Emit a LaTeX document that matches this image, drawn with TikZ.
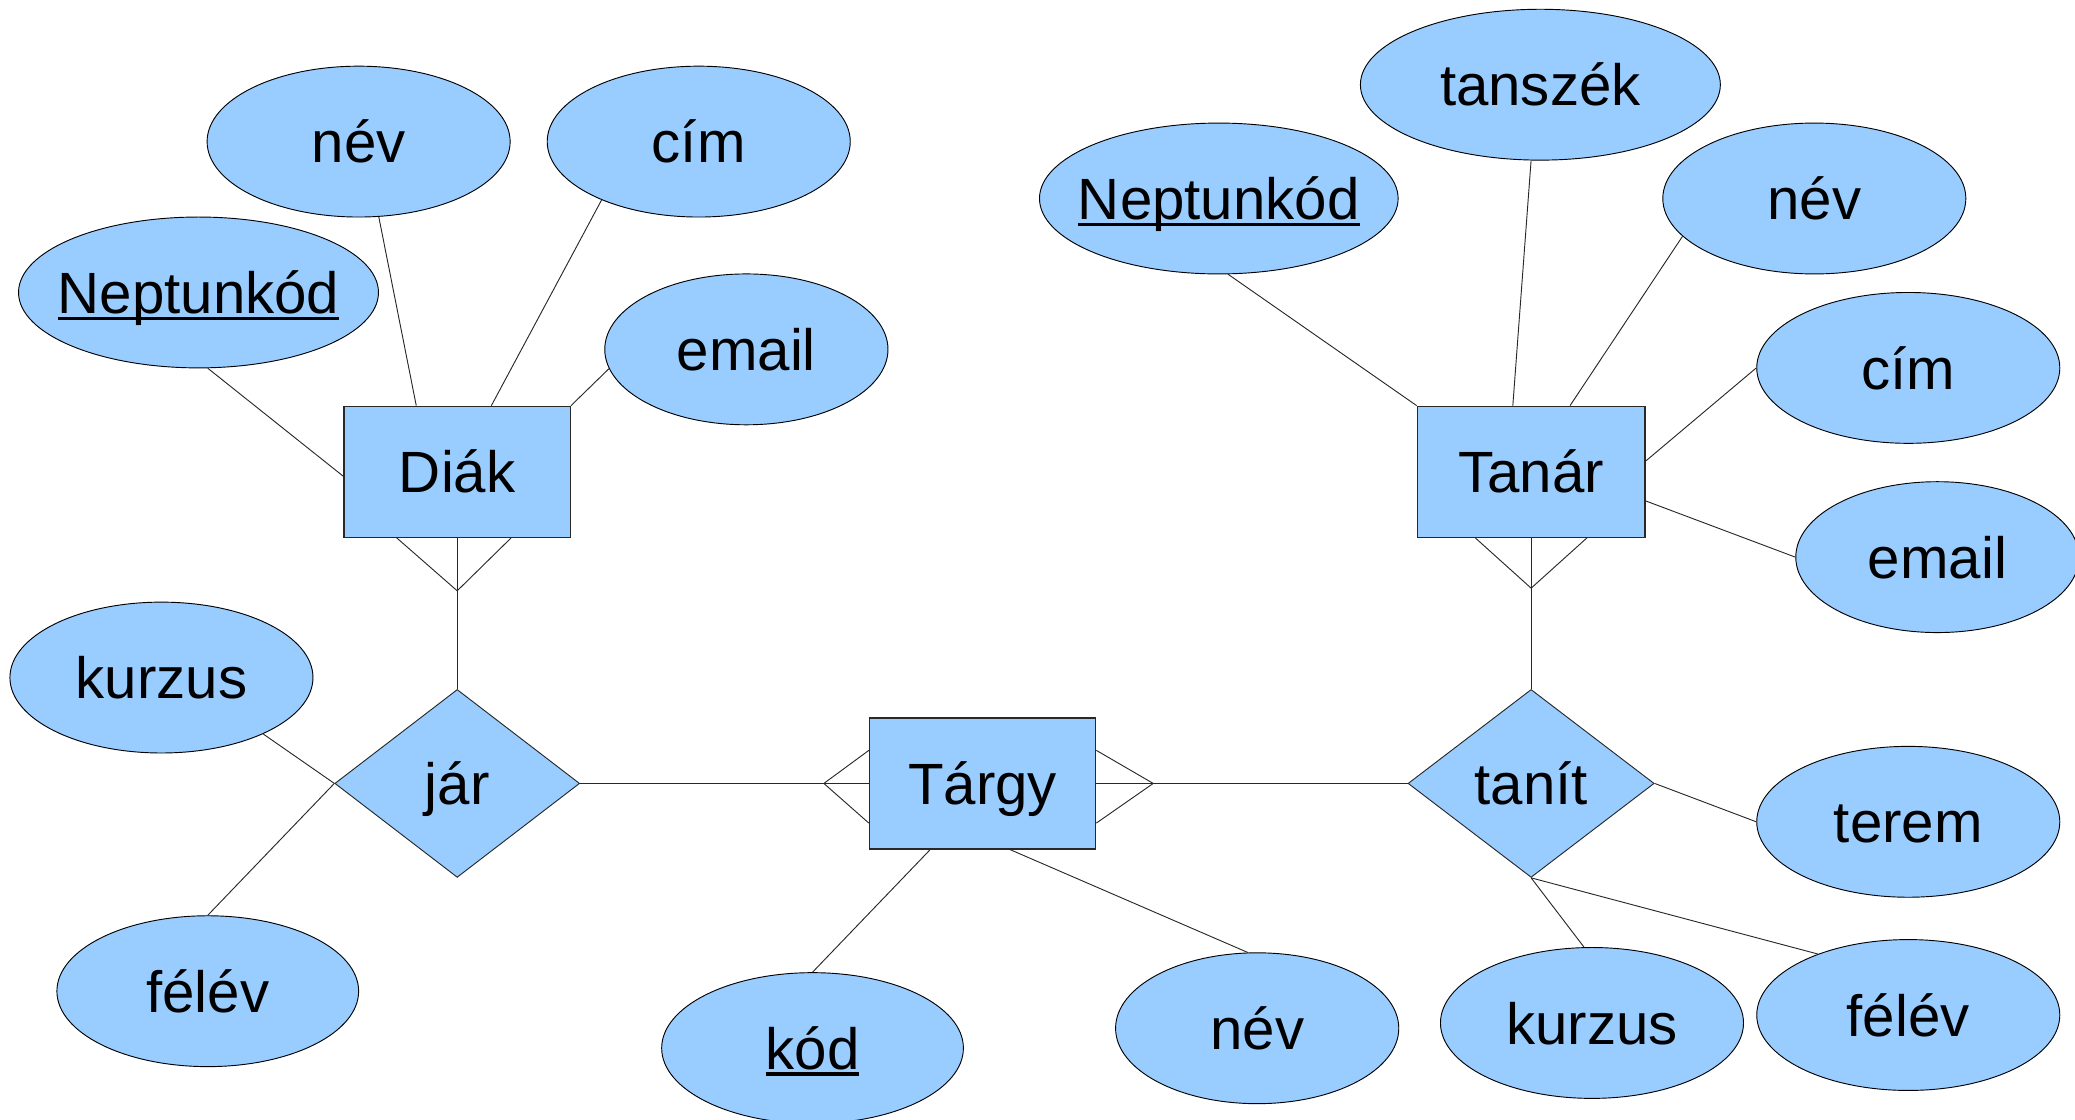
\documentclass[tikz,border=0pt]{standalone}
\usepackage{fontspec}
\setmainfont{Liberation Sans}
\usetikzlibrary{shapes.geometric,calc}
\definecolor{erfill}{RGB}{153,204,255}
\definecolor{erline}{RGB}{40,40,40}
\newcommand{\Tx}[1]{\makebox[0pt]{#1}}
\newcommand{\Ul}[1]{{\setbox0\hbox{#1}\rlap{\rule[-5pt]{\wd0}{2.6pt}}\box0}}
\begin{document}
\begin{tikzpicture}[x=1pt,y=-1pt,
  every node/.style={font=\fontsize{44}{48}\selectfont, text height=36pt, text depth=4pt, inner sep=0pt},
  attr/.style={ellipse, draw=black, line width=0.7pt, fill=erfill, minimum width=229pt, minimum height=114pt},
  ent/.style={rectangle, draw=erline, line width=0.9pt, fill=erfill, minimum width=171pt, minimum height=99pt},
  rel/.style={diamond, draw=erline, line width=0.7pt, fill=erfill, minimum width=185pt, minimum height=142pt},
  conn/.style={draw=erline, line width=0.7pt}]
\useasboundingbox (0,0) rectangle (1568,846);

% entities and relationships
\node[ent] (diak) at (345.5,356.5) {\Tx{Diák}};
\node[ent] (targy) at (742.5,592) {\Tx{Tárgy}};
\node[ent, minimum width=172pt] (tanar) at (1157,356.5) {\Tx{Tanár}};
\node[rel] (jar) at (345.5,592) {\Tx{jár}};
\node[rel, minimum width=186pt] (tanit) at (1157,592) {\Tx{tanít}};

% attributes
\node[attr, minimum width=272pt] (dnk) at (150,221) {\Tx{\Ul{Neptunkód}}};
\node[attr] (dnev) at (271,107) {\Tx{név}};
\node[attr] (dcim) at (528,107) {\Tx{cím}};
\node[attr, minimum width=214pt] (demail) at (564,264) {\Tx{email}};
\node[attr] (jkurzus) at (122,512) {\Tx{kurzus}};
\node[attr, minimum width=228pt] (jfelev) at (157,749) {\Tx{félév}};
\node[attr, minimum width=228pt] (kod) at (614,792) {\Tx{\Ul{kód}}};
\node[attr, minimum width=214pt] (tnev) at (950,777) {\Tx{név}};
\node[attr, minimum width=271pt] (tnk) at (921,150) {\Tx{\Ul{Neptunkód}}};
\node[attr, minimum width=272pt] (tanszek) at (1164,64) {\Tx{tanszék}};
\node[attr] (tanev) at (1371,150) {\Tx{név}};
\node[attr] (tcim) at (1442,278) {\Tx{cím}};
\node[attr, minimum width=214pt] (temail) at (1464,421) {\Tx{email}};
\node[attr] (terem) at (1442,621) {\Tx{terem}};
\node[attr] (tkurzus) at (1203,773) {\Tx{kurzus}};
\node[attr] (tfelev) at (1442,767) {\Tx{félév}};

% Diák connectors
\draw[conn] (dnk.-83) -- ($(diak.north west)!0.535!(diak.south west)$);
\draw[conn] (dnev.-75) -- ($(diak.north west)!0.32!(diak.north east)$);
\draw[conn] (dcim.-149) -- ($(diak.north west)!0.65!(diak.north east)$);
\draw[conn] (demail.-172.5) -- (diak.north east);
\coordinate (dcrow) at ($(diak.south)+(0,40)$);
\draw[conn] ($(diak.south west)!0.234!(diak.south east)$) -- (dcrow) -- ($(diak.south west)!0.737!(diak.south east)$);
\draw[conn] (diak.south) -- (jar.north);

% jár - Tárgy - tanít
\draw[conn] (jar.east) -- (targy.west);
\coordinate (tlcrow) at ($(targy.west)+(-34,0)$);
\draw[conn] ($(targy.north west)!0.25!(targy.south west)$) -- (tlcrow) -- ($(targy.north west)!0.8!(targy.south west)$);
\coordinate (trcrow) at ($(targy.east)+(43,0)$);
\draw[conn] ($(targy.north east)!0.25!(targy.south east)$) -- (trcrow) -- ($(targy.north east)!0.8!(targy.south east)$);
\draw[conn] (targy.east) -- (tanit.west);

% Tanár
\coordinate (tacrow) at ($(tanar.south)+(0,38)$);
\draw[conn] ($(tanar.south west)!0.256!(tanar.south east)$) -- (tacrow) -- ($(tanar.south west)!0.744!(tanar.south east)$);
\draw[conn] (tanar.south) -- (tanit.north);
\draw[conn] (tnk.-83) -- (tanar.north west);
\draw[conn] (tanszek.-97) -- ($(tanar.north west)!0.42!(tanar.north east)$);
\draw[conn] (tanev.-164) -- ($(tanar.north west)!0.67!(tanar.north east)$);
\draw[conn] (tcim.west) -- ($(tanar.north east)!0.42!(tanar.south east)$);
\draw[conn] (temail.west) -- ($(tanar.north east)!0.72!(tanar.south east)$);

% relationship attributes
\draw[conn] (jkurzus.-29) -- (jar.west);
\draw[conn] (jfelev.north) -- (jar.west);
\draw[conn] (kod.north) -- ($(targy.south west)!0.27!(targy.south east)$);
\draw[conn] (tnev.97) -- ($(targy.south west)!0.62!(targy.south east)$);
\draw[conn] (tanit.east) -- (terem.west);
\draw[conn] (tanit.south) -- (tkurzus.96);
\draw[conn] (tanit.south) -- (tfelev.146);
\end{tikzpicture}
\end{document}
